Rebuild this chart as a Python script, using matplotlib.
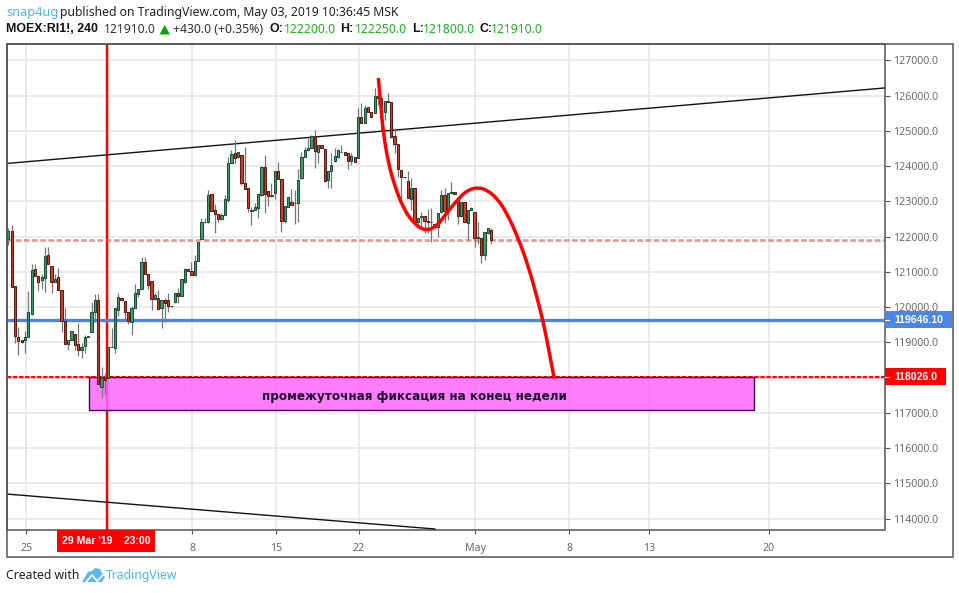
import matplotlib
matplotlib.use('Agg')
import matplotlib.pyplot as plt
from matplotlib.patches import PathPatch, Polygon, Rectangle
from matplotlib.path import Path
import numpy as np

W, H = 959, 593

opens = [
    121940, 122150, 120590, 119140, 119060, 119080, 119140, 119810, 121070, 120870,
    120780, 120840, 121470, 121160, 120720, 120850, 120480, 119600, 118950, 119060,
    119230, 118950, 118780, 118890, 119140, 119290, 119850, 120190, 117730, 118000,
    118000, 118860, 118850, 119910, 120250, 120170, 119850, 119570, 119990, 120360,
    120510, 121270, 120930, 120730, 120220, 120250, 119970, 120190, 120190, 120020,
    120140, 120390, 120310, 120700, 121070, 121020, 120900, 121300, 121920, 122410,
    122430, 123200, 122750, 122630, 122510, 122620, 123050, 124080, 124370, 124250,
    124310, 123510, 123370, 122720, 122770, 122800, 123170, 123970, 123290, 123150,
    123230, 123850, 123650, 122440, 122830, 122970, 122950, 122950, 123660, 124250,
    124470, 124510, 124850, 124390, 124590, 124480, 123600, 123850, 124140, 124250,
    124390, 124390, 124370, 124140, 124250, 124240, 125410, 125220, 125670, 125530,
    125500, 125980, 125930, 125530, 125840, 125810, 124850, 124620, 123880, 123680,
    123570, 123060, 123370, 122430, 122550, 122580, 122450, 122410, 122350, 122270,
    122690, 123170, 122720, 123250, 123260, 123090, 122580, 122970, 122380, 122750,
    122690, 121970, 121970, 121470, 122100, 122200,
]
closes = [
    122150, 120580, 119190, 119050, 119020, 119140, 119850, 121050, 120870, 120700,
    120850, 121440, 121230, 120720, 120790, 120500, 119600, 118960, 119060, 119310,
    118920, 118780, 118860, 119140, 119170, 119850, 120190, 117810, 118000, 117920,
    118860, 118870, 119970, 120280, 120210, 119850, 119600, 119990, 120390, 120510,
    121270, 120930, 120620, 120220, 120340, 119940, 120190, 120110, 120020, 120030,
    120390, 120310, 120790, 121070, 121020, 120900, 121300, 121840, 122410, 122420,
    123180, 122740, 122650, 122510, 122610, 123060, 124080, 124340, 124240, 124390,
    123510, 123360, 122820, 122760, 122830, 123200, 123970, 123200, 123150, 123170,
    123850, 123630, 122450, 122860, 123120, 122910, 122960, 123600, 124250, 124450,
    124510, 124850, 124420, 124590, 124510, 123570, 123850, 124020, 124280, 124450,
    124400, 124330, 124140, 124280, 124110, 125410, 125220, 125640, 125530, 125410,
    125980, 125930, 125410, 125840, 125810, 124820, 124620, 123910, 123680, 123690,
    123090, 123370, 122410, 122520, 122580, 122450, 122410, 122420, 122270, 122660,
    123170, 122720, 123230, 123260, 123200, 122580, 122970, 122430, 122750, 122800,
    121950, 121980, 121470, 122120, 122240, 121910,
]
highs = [
    122240, 122330, 120590, 119440, 119060, 119330, 120450, 121230, 121230, 120870,
    120940, 121710, 121710, 121160, 120940, 121100, 120480, 119980, 119060, 119310,
    119230, 119540, 118980, 119210, 119170, 120150, 120370, 120370, 118290, 118120,
    118860, 119410, 119970, 120390, 120280, 120170, 119850, 120020, 120660, 120510,
    121430, 121430, 120930, 120730, 120390, 120490, 120190, 120250, 120390, 120040,
    120390, 120530, 120790, 121100, 121070, 121290, 121480, 121840, 122520, 122520,
    123320, 123200, 122920, 122630, 122660, 123180, 124270, 124460, 124740, 124390,
    124320, 124550, 123370, 122850, 122950, 123200, 124010, 124320, 123290, 123510,
    123850, 124110, 123650, 122860, 123120, 123340, 123320, 123910, 124410, 124550,
    124790, 124890, 125030, 124590, 124590, 124480, 123850, 124370, 124510, 124480,
    124600, 124390, 124370, 124370, 124250, 125640, 125780, 125740, 125670, 125530,
    126210, 126100, 125930, 125840, 126070, 125810, 125080, 124620, 123880, 123700,
    123850, 123660, 123370, 122520, 122710, 122580, 122780, 122800, 122350, 122660,
    123320, 123370, 123230, 123560, 123260, 123090, 122990, 122970, 122750, 122850,
    122690, 122420, 121970, 122140, 122260, 122250,
]
lows = [
    121750, 120580, 118990, 118650, 118990, 118710, 119140, 119780, 120870, 120470,
    120510, 120420, 121230, 120410, 120720, 120500, 119300, 118950, 118790, 119060,
    118780, 118610, 118550, 118710, 119140, 119290, 119590, 117810, 117430, 117530,
    118000, 118860, 118710, 119760, 120180, 119640, 119520, 119220, 119990, 120300,
    120510, 120930, 120510, 119920, 120200, 119940, 119420, 119590, 119870, 120010,
    120110, 120110, 120310, 120680, 121020, 120900, 120870, 121300, 121920, 122380,
    122380, 122740, 122100, 122430, 122490, 122620, 122990, 124080, 124080, 124220,
    123470, 123360, 122710, 122330, 122760, 122540, 123150, 122660, 122870, 123120,
    123080, 123630, 122140, 122380, 122830, 122900, 122350, 122410, 123630, 124250,
    124460, 124510, 123960, 124080, 124510, 123550, 123370, 123370, 124130, 124220,
    124390, 124330, 123910, 124030, 124110, 124240, 125220, 125220, 125530, 125410,
    125500, 125740, 125030, 125310, 125810, 124790, 124370, 123680, 123090, 123660,
    123090, 122760, 122330, 122240, 122280, 122100, 122100, 121860, 122240, 122000,
    122660, 122380, 122470, 123240, 123200, 122350, 122550, 122430, 121910, 122750,
    121720, 121790, 121260, 121340, 122080, 121800,
]

price_ticks = [114000, 115000, 116000, 117000, 118000, 119000, 120000, 121000, 122000,
               123000, 124000, 125000, 126000, 127000]
time_ticks = [5.4, 30.3, 55.2, 80.5, 105.2, 140.2, 168.4, 192.4, 228.4]
time_labels = ['25', '', '8', '15', '22', 'May', '8', '13', '20']

upper_bars = [-0.55, 263.1]
upper_prices = [124077, 126220]
lower_bars = [-0.55, 128.1]
lower_prices = [114697, 113704]

curve_bars = [111.1, 111.8, 112.6, 114.1, 116.1, 118.6, 121.6, 125.1, 128.6, 131.6, 135.6,
              138.0, 141.0, 143.7, 146.7, 149.7, 153.1, 156.2, 158.7, 160.7, 162.2, 163.9]
curve_prices = [126503, 125794, 124942, 124091, 123418, 122814, 122388, 122161, 122283, 122672, 123126,
                123325, 123401, 123325, 123098, 122672, 121963, 121148, 120297, 119550, 118841, 117981]

last_price = 121910
blue_level = 119646.10
red_level = 118026
zone_bars = [24.1, 223.9]
zone_prices = [117081, 118018]
zone_label_bar = 121.8
zone_label_price = 117478
marker_bar = 29.5

FONT = 'Noto Sans'
BOLD = 'Liberation Sans'
GREEN_TXT = '#22b022'
LINK = '#4fb3e8'
AXIS = '#555555'
GRID = '#e6e6e6'
LABEL = '#6a6a6a'


def fx(x):
    return x / W


def fy(y):
    return 1 - y / H


fig = plt.figure(figsize=(W / 100, H / 100), dpi=100)
ax = fig.add_axes([fx(6.5), fy(529.5), (884.5 - 6.5) / W, (529.5 - 43.5) / H])
ax.set_xlim(-0.55, 263.1)
ax.set_ylim(113690, 127482)

ax.set_xticks(time_ticks)
ax.set_xticklabels(time_labels, fontsize=7.6, color=LABEL, family=FONT)
ax.set_yticks(price_ticks)
# the 118000 label sits under the red price flag in the original
ax.set_yticklabels(['' if p == 118000 else f'{p:.1f}' for p in price_ticks], fontsize=7.6, color=LABEL,
                   family=FONT)
ax.yaxis.tick_right()
ax.tick_params(axis='y', length=3.5, width=0.8, color=AXIS, pad=3)
ax.tick_params(axis='x', length=3, width=0.8, color=AXIS, pad=7)
ax.grid(True, color=GRID, lw=1.1, zorder=0)
ax.set_axisbelow(True)
for spine in ax.spines.values():
    spine.set_color(AXIS)
    spine.set_linewidth(1.1)

# outer frame around both scales
fig.add_artist(Rectangle((fx(6.5), fy(556.5)), (952.5 - 6.5) / W, (556.5 - 43.5) / H, fill=False,
                         edgecolor=AXIS, lw=1.1, transform=fig.transFigure))

ax.axvline(marker_bar, color='#ff0000', lw=1.7, zorder=2)
ax.axhline(last_price, color='#e0604f', lw=1.9, alpha=0.65, dashes=(2.2, 0.9), zorder=2)
ax.axhline(blue_level, color='#4a86e8', lw=2.4, zorder=2)
ax.axhline(red_level, color='#ffc4c4', lw=2.2, zorder=2)
ax.axhline(red_level, color='#ff0000', lw=1.4, dashes=(2.2, 0.9), zorder=2)

ax.add_patch(Rectangle((zone_bars[0], zone_prices[0]), zone_bars[1] - zone_bars[0],
                       zone_prices[1] - zone_prices[0], facecolor='#ff66ff', alpha=0.85,
                       edgecolor='none', zorder=3))
ax.add_patch(Rectangle((zone_bars[0], zone_prices[0]), zone_bars[1] - zone_bars[0],
                       zone_prices[1] - zone_prices[0], fill=False, edgecolor='#3a0a4a',
                       lw=1, zorder=3))
ax.text(zone_label_bar, zone_label_price, 'промежуточная фиксация на конец недели',
        ha='center', va='center', fontsize=8.65, fontweight='bold', color='#1c1028',
        family='DejaVu Sans', zorder=6)

ax.plot(upper_bars, upper_prices, color='#111111', lw=1, zorder=4)
ax.plot(lower_bars, lower_prices, color='#111111', lw=1, zorder=4)

bars = np.arange(len(opens))
o = np.array(opens)
c = np.array(closes)
up = c >= o
ax.vlines(bars, lows, highs, color='#777777', lw=0.9, zorder=4)
ax.bar(bars[up], (c - o)[up], bottom=o[up], width=0.68, color='#46996f', edgecolor='#1d4f38',
       lw=0.75, zorder=5)
ax.bar(bars[~up], (c - o)[~up], bottom=o[~up], width=0.68, color='#cf3f2b', edgecolor='#5a1d12',
       lw=0.75, zorder=5)

# brush stroke: read points used as quadratic control points so the stroke has no corners
pts = np.column_stack([curve_bars, curve_prices])
verts = [pts[0]]
codes = [Path.MOVETO]
for i in range(1, len(pts) - 1):
    end = pts[i + 1] if i == len(pts) - 2 else (pts[i] + pts[i + 1]) / 2
    verts += [pts[i], end]
    codes += [Path.CURVE3, Path.CURVE3]
ax.add_patch(PathPatch(Path(verts, codes), fill=False, edgecolor='#ff0000', lw=2.5, capstyle='butt',
                       joinstyle='round', zorder=7))

# price scale flags
trans = ax.get_yaxis_transform()
half = 241
tick_w = 4 / 878
ax.add_patch(Rectangle((1, blue_level - half), 67.5 / 878, 2 * half, facecolor='#4a86e8', edgecolor='none',
                       transform=trans, clip_on=False, zorder=8))
ax.add_patch(Rectangle((1, red_level - half), 61.5 / 878, 2 * half, facecolor='#ff0000', edgecolor='none',
                       transform=trans, clip_on=False, zorder=8))
for level in [blue_level, red_level]:
    ax.plot([1, 1 + tick_w], [level, level], color='white', lw=0.8, transform=trans, clip_on=False, zorder=9)
ax.text(1 + 9.5 / 878, blue_level, f'{blue_level:.2f}', transform=trans, color='white', fontsize=7.6,
        fontweight='bold', family=BOLD, va='center', zorder=9)
ax.text(1 + 9.5 / 878, red_level, f'{red_level:.1f}', transform=trans, color='white', fontsize=7.6,
        fontweight='bold', family=BOLD, va='center', zorder=9)

# time scale flag
fig.add_artist(Rectangle((fx(57), fy(551.7)), 98 / W, 22 / H, facecolor='#ff0000', edgecolor='none',
                         transform=fig.transFigure, zorder=8))
fig.text(fx(106), fy(541), "29 Mar '19    23:00", color='white', fontsize=7.6, fontweight='bold',
         family=BOLD, ha='center', va='center', zorder=9)

# header
HEAD = 8.8
HEAD_BOLD = 8.9
fig.text(fx(6), fy(12.5), 'snap4ug', color=LINK, fontsize=9.2, family=FONT, va='center')
fig.text(fx(60), fy(12.5), 'published on TradingView.com, May 03, 2019 10:36:45 MSK', color='#222222',
         fontsize=HEAD, family=FONT, va='center')
fig.text(fx(6), fy(29.5), 'MOEX:RI1!, 240', color='#111111', fontsize=HEAD_BOLD, family=BOLD, va='center',
         fontweight='bold')
fig.text(fx(103.5), fy(29.5), f'{closes[-1]:.1f}', color='#333333', fontsize=HEAD, family=FONT, va='center')
fig.add_artist(Polygon([(fx(159.5), fy(34.5)), (fx(170), fy(34.5)), (fx(164.7), fy(25))], closed=True,
                       facecolor='#0aa00a', edgecolor='none', transform=fig.transFigure))
fig.text(fx(173), fy(29.5), '+430.0 (+0.35%)', color='#333333', fontsize=HEAD, family=FONT, va='center')
for x0, name, x1, val in [(269.3, 'O:', 283.7, opens[-1]), (340.5, 'H:', 354.7, highs[-1]),
                          (411.7, 'L:', 423, lows[-1]), (479.3, 'C:', 491.3, closes[-1])]:
    fig.text(fx(x0), fy(29.5), name, color='#111111', fontsize=HEAD_BOLD, family=BOLD, va='center', fontweight='bold')
    fig.text(fx(x1), fy(29.5), f'{val:.1f}', color=GREEN_TXT, fontsize=HEAD, family=FONT, va='center')

# footer
fig.text(fx(6), fy(575.5), 'Created with', color='#222222', fontsize=HEAD, family=FONT, va='center')
cloud = [(82, 582), (88, 572), (92, 571), (95, 568), (100, 569), (102, 573), (105, 577), (102, 582)]
fig.add_artist(Polygon([(fx(a), fy(b)) for a, b in cloud], closed=True, facecolor='#5ab8ea', edgecolor='none',
                       transform=fig.transFigure))
zig = [(86, 582), (92, 575), (97, 581), (104, 574)]
fig.add_artist(plt.Line2D([fx(a) for a, b in zig], [fy(b) for a, b in zig], color='white', lw=1.2,
                          transform=fig.transFigure))
fig.text(fx(106), fy(575.5), 'TradingView', color=LINK, fontsize=HEAD, family=FONT, va='center')

fig.savefig('out.png', dpi=100)
